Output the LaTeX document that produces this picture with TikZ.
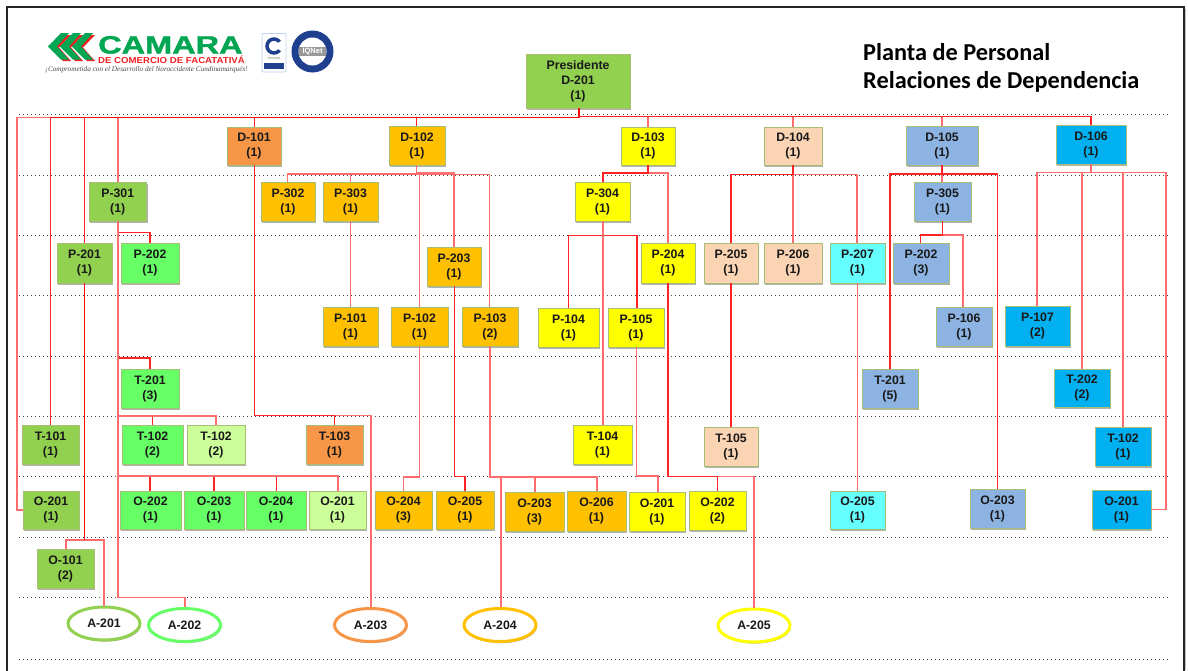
\documentclass[tikz,border=0pt]{standalone}
\usepackage{fontspec}
\usepackage{graphicx}
\setmainfont{Liberation Sans}
\newfontfamily\titlefont{Carlito}
\newfontfamily\tagfont{Liberation Serif}
\newfontfamily\heavyfont[BoldFeatures={FakeBold=1.2}]{Liberation Sans}
\usetikzlibrary{shapes.geometric,shadows}
\definecolor{cgreen}{HTML}{92D050}
\definecolor{cbright}{HTML}{66FF66}
\definecolor{clight}{HTML}{CCFF99}
\definecolor{corange}{HTML}{F79646}
\definecolor{camber}{HTML}{FFC000}
\definecolor{cyellow}{HTML}{FFFF00}
\definecolor{cpeach}{HTML}{FBD4B4}
\definecolor{cblue}{HTML}{8DB3E2}
\definecolor{csky}{HTML}{00B0F0}
\definecolor{ccyan}{HTML}{66FFFF}
\definecolor{cedge}{HTML}{A6BF74}
\definecolor{logogreen}{HTML}{00A651}
\definecolor{logored}{HTML}{ED2024}
\definecolor{iqblue}{HTML}{1F3F8F}
\tikzset{
  boxnode/.style={draw=cedge,line width=0.9pt,inner sep=0pt,align=center,text=black!90,
    font=\fontsize{12.3}{15}\selectfont\bfseries,
    drop shadow={shadow xshift=1pt,shadow yshift=-1.6pt,opacity=.3,fill=black}},
  ovalnode/.style={ellipse,fill=white,line width=3pt,inner sep=0pt,text=black!90,
    font=\fontsize{12.3}{15}\selectfont\bfseries,minimum width=72pt,minimum height=33pt,
    drop shadow={shadow xshift=1pt,shadow yshift=-1.6pt,opacity=.3,fill=black}},
  linkred/.style={draw={rgb,255:red,255;green,35;blue,35},line width=1.15pt},
  linkpink/.style={draw={rgb,255:red,255;green,110;blue,110},line width=1.6pt},
  linkthick/.style={draw={rgb,255:red,255;green,10;blue,10},line width=1.7pt},
  rowline/.style={draw=black!70,line width=0.9pt,dash pattern=on 1.2pt off 2.8pt},
}
\newcommand{\bx}[8]{\node[boxnode,fill=#6,minimum width={#4pt-#2pt},minimum height={#5pt-#3pt}] (#1) at ({(#2+#4)/2},{(#3+#5)/2}) {#7\\(#8)};}
\newcommand{\lnk}[6][linkred]{\draw[#1] (#3,0 |- #2) |- (#5,#4) -- (#5,0 |- #6);}
\newcommand{\vlnk}[4][linkred]{\draw[#1] (#3,0 |- #2) -- (#3,0 |- #4);}
\begin{document}
\begin{tikzpicture}[x=1pt,y=-1pt]
\useasboundingbox (0,0) rectangle (1188,670);
\fill[white] (0,0) rectangle (1188,670);
% frame
\draw[black!25,line width=1.5pt] (1185.5,9) -- (1185.5,670);
\draw[black!85,line width=2pt] (6.5,690) -- (6.5,7) -- (1184,7) -- (1184,690);
% row lines
\foreach \yy in {114.5,175,235,295.5,356,416,476.5,537,597.5,659}
  \draw[rowline] (19,\yy) -- (1170,\yy);
% logo
\foreach \tx in {48,60,72}{
  \fill[logored] (\tx+3,47.5) -- (\tx+15,35) -- (\tx+23,35) -- (\tx+11,47.5) -- (\tx+23,61) -- (\tx+15,61) -- cycle;
}
\foreach \tx in {48,60,72}{
  \fill[logogreen] (\tx,46.5) -- (\tx+13,33) -- (\tx+21,33) -- (\tx+9,46.5) -- (\tx+21,59.5) -- (\tx+13,59.5) -- cycle;
}
\node[inner sep=0pt,text=logogreen,anchor=base west,font=\heavyfont\fontsize{25}{25}\selectfont\bfseries] (logoname) at (98,53.5) {\scalebox{1.3}[1]{CAMARA}};
\node[inner sep=0pt,text=logored,anchor=base west,font=\fontsize{8.6}{9}\selectfont\bfseries] (logosub) at (98,63.5) {\scalebox{1.12}[1]{DE COMERCIO DE FACATATIVÁ}};
\node[inner sep=0pt,text=black!70,anchor=base west,font=\tagfont\fontsize{7.2}{8}\selectfont\itshape] (logotag) at (45,71) {¡Comprometida con el Desarrollo del Noroccidente Cundinamarqués!};
% ISO badge
\draw[cblue!60,fill=white,line width=0.8pt,rounded corners=1pt] (262,33.5) rectangle (286,72);
\draw[iqblue,line width=3.5pt] (274,46) circle (7);
\fill[white] (274,46) -- (285,38) -- (285,54) -- cycle;
\fill[iqblue] (264,63) rectangle (284,69);
\node[inner sep=0pt,text=black!60,font=\fontsize{3}{3}\selectfont] (isotext) at (274,58) {ISO 9001};
% IQNet badge
\fill[iqblue] (312.5,51.5) circle (21);
\fill[white] (312.5,51.5) circle (14);
\fill[black!40] (299,47) rectangle (326,56);
\node[inner sep=0pt,text=white,font=\fontsize{7.5}{8}\selectfont\bfseries] (iqnet) at (312.5,51.5) {IQNet};
% title
\node[inner sep=0pt,anchor=base west,text=black,font=\titlefont\fontsize{24.3}{28}\selectfont\bfseries] (title1) at (863,60) {Planta de Personal};
\node[inner sep=0pt,anchor=base west,text=black,font=\titlefont\fontsize{24.3}{28}\selectfont\bfseries] (title2) at (863,88.5) {Relaciones de Dependencia};
% boxes
\node[boxnode,fill=cgreen,minimum width=104pt,minimum height=54pt] (pres) at (578,81) {Presidente\\D-201\\(1)};
\bx{d101}{227}{127}{281}{165}{corange}{D-101}{1}
\bx{d102}{389}{126}{445}{165}{camber}{D-102}{1}
\bx{d103}{621}{127}{675}{165}{cyellow}{D-103}{1}
\bx{d104}{764}{127}{822}{165}{cpeach}{D-104}{1}
\bx{d105}{906}{126}{978}{165}{cblue}{D-105}{1}
\bx{d106}{1056}{125}{1126}{164}{csky}{D-106}{1}
\bx{p301}{89}{182}{146.5}{221}{cgreen}{P-301}{1}
\bx{p302}{261}{182}{315}{221}{camber}{P-302}{1}
\bx{p303}{323}{182}{378}{221}{camber}{P-303}{1}
\bx{p304}{575}{182}{630}{221}{cyellow}{P-304}{1}
\bx{p305}{914}{182}{971}{221}{cblue}{P-305}{1}
\bx{p201}{57}{243}{112}{283}{cgreen}{P-201}{1}
\bx{p202g}{121}{243}{179}{283}{cbright}{P-202}{1}
\bx{p203}{427}{247}{481}{286}{camber}{P-203}{1}
\bx{p204}{641}{243}{695}{283}{cyellow}{P-204}{1}
\bx{p205}{704}{243}{758}{283}{cpeach}{P-205}{1}
\bx{p206}{764}{243}{822}{283}{cpeach}{P-206}{1}
\bx{p207}{830}{243}{885}{283}{ccyan}{P-207}{1}
\bx{p202b}{893}{243}{949}{283}{cblue}{P-202}{3}
\bx{p101}{323}{307}{378}{346}{camber}{P-101}{1}
\bx{p102}{391}{307}{448}{346}{camber}{P-102}{1}
\bx{p103}{462}{307}{518}{346}{camber}{P-103}{2}
\bx{p104}{538}{308}{599}{347}{cyellow}{P-104}{1}
\bx{p105}{608}{308}{664}{347}{cyellow}{P-105}{1}
\bx{p106}{936}{307}{992}{346}{cblue}{P-106}{1}
\bx{p107}{1005}{306}{1070}{346}{csky}{P-107}{2}
\bx{t201g}{121}{369}{179}{408}{cbright}{T-201}{3}
\bx{t201b}{862}{369}{918}{408}{cblue}{T-201}{5}
\bx{t202}{1054}{369}{1110}{407}{csky}{T-202}{2}
\bx{t101}{22}{425}{79}{464}{cgreen}{T-101}{1}
\bx{t102g}{122}{425}{183}{464}{cbright}{T-102}{2}
\bx{t102l}{187}{425}{245}{464}{clight}{T-102}{2}
\bx{t103}{306}{425}{363}{464}{corange}{T-103}{1}
\bx{t104}{573}{425}{632}{464}{cyellow}{T-104}{1}
\bx{t105}{704}{427}{758}{466}{cpeach}{T-105}{1}
\bx{t102b}{1095}{427}{1151}{466}{csky}{T-102}{1}
\bx{o201g}{23}{491}{79}{529}{cgreen}{O-201}{1}
\bx{o202g}{120}{491}{181}{529}{cbright}{O-202}{1}
\bx{o203g}{184}{491}{244}{529}{cbright}{O-203}{1}
\bx{o204g}{246}{491}{306}{529}{cbright}{O-204}{1}
\bx{o201l}{309}{491}{366}{529}{clight}{O-201}{1}
\bx{o204a}{375}{491}{432}{529}{camber}{O-204}{3}
\bx{o205a}{436}{491}{494}{529}{camber}{O-205}{1}
\bx{o203a}{505}{492}{564}{531}{camber}{O-203}{3}
\bx{o206a}{567}{491}{626}{531}{camber}{O-206}{1}
\bx{o201y}{629}{492}{685}{531}{cyellow}{O-201}{1}
\bx{o202y}{689}{491}{746}{530}{cyellow}{O-202}{2}
\bx{o205c}{830}{491}{885}{529}{ccyan}{O-205}{1}
\bx{o203b}{970}{489}{1025}{528}{cblue}{O-203}{1}
\bx{o201b}{1092}{490}{1151}{529}{csky}{O-201}{1}
\bx{o101}{37}{549}{94}{588}{cgreen}{O-101}{2}
% ovals
\node[ovalnode,draw=cgreen] (a201) at (104,623.5) {A-201};
\node[ovalnode,draw=cbright] (a202) at (184.5,625) {A-202};
\node[ovalnode,draw=corange] (a203) at (370.5,625) {A-203};
\node[ovalnode,draw=camber] (a204) at (500,625) {A-204};
\node[ovalnode,draw=cyellow] (a205) at (754,625.5) {A-205};
% connectors from the president
\draw[linkpink] (579,0 |- pres.south) |- (17,117.5) |- (o201g.west);
\lnk[linkpink]{pres.south}{579}{116.3}{648}{d103.north}
\lnk[linkpink]{pres.south}{579}{116.3}{793}{d104.north}
\lnk[linkpink]{pres.south}{579}{116.3}{942}{d105.north}
\lnk[linkpink]{pres.south}{579}{117.5}{118}{p301.north}
\lnk{pres.south}{579}{116.3}{1091}{d106.north}
\lnk{pres.south}{579}{117.5}{50.5}{t101.north}
\lnk{pres.south}{579}{117.5}{84.5}{p201.north}
\lnk{pres.south}{579}{117.5}{254.3}{d101.north}
\lnk{pres.south}{579}{117.5}{416.5}{d102.north}
\draw[linkthick] (579,0 |- pres.south) |- (50.5,117.5);
\draw[linkred] (579,116.3) -- (942,116.3);
% green branch
\lnk[linkpink]{p201.south}{84.5}{540}{66}{o101.north}
\lnk[linkpink]{p201.south}{84.5}{540}{104}{a201.north}
\draw[linkthick] (84.5,0 |- p201.south) -- (84.5,540);
\lnk[linkpink]{p301.south}{118}{597.5}{185}{a202.north}
\lnk{p301.south}{118}{232.5}{150}{p202g.north}
\lnk{p301.south}{118}{358}{150}{t201g.north}
\lnk{p301.south}{118}{415.7}{152.5}{t102g.north}
\lnk[linkpink]{p301.south}{118}{415.7}{216}{t102l.north}
\lnk{p301.south}{118}{476}{150}{o202g.north}
\lnk{p301.south}{118}{476}{214}{o203g.north}
\lnk{p301.south}{118}{476}{276.5}{o204g.north}
\lnk[linkpink]{p301.south}{118}{476}{338}{o201l.north}
% D-101 branch
\lnk[linkpink]{d101.south}{254.3}{415.5}{371}{a203.north}
\lnk{d101.south}{254.3}{415.5}{334.5}{t103.north}
% D-102 branch
\lnk[linkpink]{d102.south}{416.5}{174}{287.5}{p302.north}
\lnk[linkpink]{d102.south}{416.5}{174}{350.5}{p303.north}
\lnk[linkpink]{d102.south}{416.5}{173.5}{419.5}{p102.north}
\lnk[linkpink]{d102.south}{416.5}{173}{453.7}{p203.north}
\lnk[linkpink]{d102.south}{416.5}{174.5}{489.3}{p103.north}
\vlnk[linkpink]{p303.south}{350.5}{p101.north}
\lnk[linkpink]{p102.south}{419.5}{476.7}{403.5}{o204a.north}
\lnk{p203.south}{454.5}{476.5}{465}{o205a.north}
\lnk[linkpink]{p103.south}{490}{477}{597}{o206a.north}
\lnk[linkpink]{p103.south}{490}{477}{534.7}{o203a.north}
\lnk[linkpink]{p103.south}{490}{477}{500.7}{a204.north}
% D-103 branch
\lnk[linkpink]{d103.south}{648}{173}{668}{p204.north}
\lnk{d103.south}{648}{173}{603}{p304.north}
\lnk{p304.south}{603}{235.5}{568.5}{p104.north}
\lnk{p304.south}{603}{235.5}{637}{p105.north}
\vlnk[linkpink]{p304.south}{603}{t104.north}
\lnk[linkpink]{p105.south}{636.5}{476}{658}{o201y.north}
\lnk[linkpink]{p204.south}{668}{476.5}{754}{a205.north}
\lnk{p204.south}{668}{476.5}{717.5}{o202y.north}
% D-104 branch
\vlnk[linkpink]{d104.south}{793}{p206.north}
\lnk[linkpink]{d104.south}{793}{174.5}{857}{p207.north}
\lnk{d104.south}{793}{174.5}{731}{p205.north}
\vlnk{p205.south}{731}{t105.north}
\vlnk[linkpink]{p207.south}{857.5}{o205c.north}
% D-105 branch
\vlnk[linkpink]{d105.south}{942}{p305.north}
\lnk{d105.south}{942}{174}{890}{t201b.north}
\lnk{d105.south}{942}{174}{997.5}{o203b.north}
\lnk[linkpink]{p305.south}{942.5}{235}{963}{p106.north}
\lnk{p305.south}{942.5}{235}{920.5}{p202b.north}
% D-106 branch
\lnk[linkpink]{d106.south}{1091}{172.5}{1037}{p107.north}
\lnk[linkpink]{d106.south}{1091}{172.5}{1082}{t202.north}
\lnk[linkpink]{d106.south}{1091}{172.5}{1123}{t102b.north}
\draw[linkpink] (1091,0 |- d106.south) |- (1166,172.5) |- (o201b.east);
\end{tikzpicture}
\end{document}
